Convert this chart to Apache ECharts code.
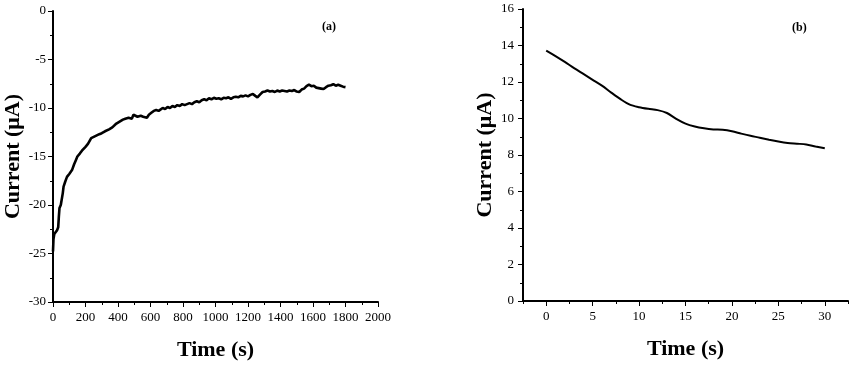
<!DOCTYPE html>
<html>
<head>
<meta charset="utf-8">
<script src="https://cdn.jsdelivr.net/npm/echarts@6/dist/echarts.min.js"></script>
<style>html,body{margin:0;padding:0;background:#fff}#c{width:852px;height:366px}</style>
</head>
<body>
<div id="c"></div>
<script>
// Panel (a): chronoamperometry, time (s) vs current (µA)
var timeA = [0,3,8,15,25,32,36,40,48,55,60,65,75,86,100,117,130,140,150,165,178,190,200,215,225,235,245,260,270,285,300,310,320,330,345,355,365,375,390,400,410,420,430,445,455,465,475,485,495,505,520,530,540,555,565,578,590,605,620,635,650,660,675,690,705,720,735,750,765,780,795,810,825,840,855,870,885,900,915,930,945,960,975,990,1005,1020,1035,1050,1065,1080,1095,1110,1125,1140,1155,1170,1185,1200,1215,1230,1245,1258,1265,1275,1290,1305,1320,1335,1350,1365,1380,1395,1410,1425,1440,1455,1470,1485,1500,1515,1530,1545,1560,1575,1590,1605,1620,1635,1650,1665,1680,1695,1710,1725,1740,1755,1770,1785,1800];
var currentA = [-24.8,-23.5,-23.0,-22.8,-22.6,-22.3,-21.2,-20.3,-20.0,-19.9,-18.8,-18.1,-17.6,-17.1,-16.8,-16.4,-15.8,-15.4,-15.0,-14.7,-14.4,-14.3,-14.0,-13.7,-13.5,-13.1,-12.9,-12.9,-12.8,-12.7,-12.6,-12.7,-12.4,-12.3,-12.2,-12.3,-12.0,-11.8,-11.6,-11.5,-11.4,-11.5,-11.2,-11.1,-11.2,-11.0,-10.9,-11.1,-10.7,-10.6,-10.9,-10.7,-10.8,-10.9,-11.0,-11.0,-10.7,-10.5,-10.3,-10.2,-10.3,-10.1,-10.0,-10.1,-9.9,-10.0,-9.8,-9.9,-9.7,-9.8,-9.6,-9.7,-9.6,-9.5,-9.6,-9.4,-9.3,-9.4,-9.2,-9.1,-9.2,-9.0,-9.1,-8.95,-9.05,-9.0,-9.1,-8.95,-9.0,-8.9,-9.05,-8.9,-8.85,-8.9,-8.75,-8.8,-8.7,-8.8,-8.65,-8.55,-8.75,-8.9,-9.0,-8.6,-8.35,-8.3,-8.2,-8.3,-8.25,-8.35,-8.2,-8.3,-8.2,-8.25,-8.3,-8.2,-8.25,-8.15,-8.3,-8.35,-8.1,-8.0,-7.75,-7.6,-7.75,-7.7,-7.9,-7.95,-8.0,-8.05,-7.85,-7.7,-7.65,-7.55,-7.7,-7.6,-7.7,-7.8,-7.85];

// Panel (b)
var timeB = [0,1,2,3,4,5,6,7,8,9,10,11,12,13,14,15,16,17,18,19,20,21,22,23,24,25,26,27,28,29,30];
var currentB = [13.72,13.42,13.1,12.76,12.44,12.12,11.8,11.42,11.06,10.76,10.62,10.53,10.46,10.3,9.98,9.72,9.56,9.46,9.4,9.38,9.3,9.17,9.05,8.95,8.84,8.74,8.66,8.62,8.58,8.47,8.37];
var ticksB = [0,5,10,15,20,25,30];
var minorTicksB = [-2.5,2.5,7.5,12.5,17.5,22.5,27.5,32.5];

function zip(a,b){var r=[];for(var i=0;i<a.length;i++)r.push([a[i],b[i]]);return r;}

var serif = 'Liberation Serif';
var lblStyle = {color:'#000', fontFamily:serif, fontSize:13, formatter:function(v){return String(v);}};
var nameStyle = {color:'#000', fontFamily:serif, fontSize:22, fontWeight:'bold'};
var lineStyle = {color:'#000', width:2};

var chart = echarts.init(document.getElementById('c'), null, {renderer:'canvas'});
chart.setOption({
  animation:false,
  backgroundColor:'#fff',
  grid:[
    {left:53, top:11, width:325, height:291},
    {left:523, top:9, width:325, height:292}
  ],
  xAxis:[
    {gridIndex:0, type:'value', min:0, max:2000, interval:200, position:'bottom',
     name:'Time (s)', nameLocation:'middle', nameGap:37, nameTextStyle:nameStyle,
     axisLine:{onZero:false, lineStyle:lineStyle},
     axisTick:{length:5, lineStyle:{color:'#000', width:1}},
     minorTick:{show:true, splitNumber:2, length:3, lineStyle:{color:'#000', width:1}},
     axisLabel:Object.assign({margin:9}, lblStyle),
     splitLine:{show:false}},
    {gridIndex:1, type:'value', min:-2.5, max:32.5, position:'bottom',
     name:'Time (s)', nameLocation:'middle', nameGap:37, nameTextStyle:nameStyle,
     axisLine:{onZero:false, lineStyle:lineStyle},
     axisTick:{length:5, customValues:ticksB, lineStyle:{color:'#000', width:1}},
     axisLabel:Object.assign({margin:9, customValues:ticksB}, lblStyle),
     splitLine:{show:false}},
    {gridIndex:1, type:'value', min:-2.5, max:32.5, position:'bottom', offset:0,
     axisLine:{show:false, onZero:false},
     axisTick:{show:true, length:3, customValues:minorTicksB, lineStyle:{color:'#000', width:1}},
     axisLabel:{show:false},
     splitLine:{show:false}}
  ],
  yAxis:[
    {gridIndex:0, type:'value', min:-30, max:0, interval:5,
     name:'Current (\u03bcA)', nameLocation:'middle', nameGap:23, nameTextStyle:nameStyle,
     axisLine:{show:true, onZero:false, lineStyle:lineStyle},
     axisTick:{show:true, length:5, lineStyle:{color:'#000', width:1}},
     minorTick:{show:true, splitNumber:2, length:3, lineStyle:{color:'#000', width:1}},
     axisLabel:Object.assign({margin:7}, lblStyle),
     splitLine:{show:false}},
    {gridIndex:1, type:'value', min:0, max:16, interval:2,
     name:'Current (\u03bcA)', nameLocation:'middle', nameGap:27, nameTextStyle:nameStyle,
     axisLine:{show:true, onZero:false, lineStyle:lineStyle},
     axisTick:{show:true, length:5, lineStyle:{color:'#000', width:1}},
     minorTick:{show:true, splitNumber:2, length:3, lineStyle:{color:'#000', width:1}},
     axisLabel:Object.assign({margin:9}, lblStyle),
     splitLine:{show:false}}
  ],
  graphic:[
    {type:'text', left:322, top:21, style:{text:'(a)', fill:'#000', font:'bold 12px "Liberation Serif"'}},
    {type:'text', left:792, top:22, style:{text:'(b)', fill:'#000', font:'bold 12px "Liberation Serif"'}}
  ],
  series:[
    {type:'line', xAxisIndex:0, yAxisIndex:0, data:zip(timeA,currentA), showSymbol:false, symbol:'none',
     lineStyle:{color:'#000', width:2.6}},
    {type:'line', xAxisIndex:1, yAxisIndex:1, data:zip(timeB,currentB), showSymbol:false, symbol:'none', smooth:0.3,
     lineStyle:{color:'#000', width:2}}
  ]
});
</script>
</body>
</html>
